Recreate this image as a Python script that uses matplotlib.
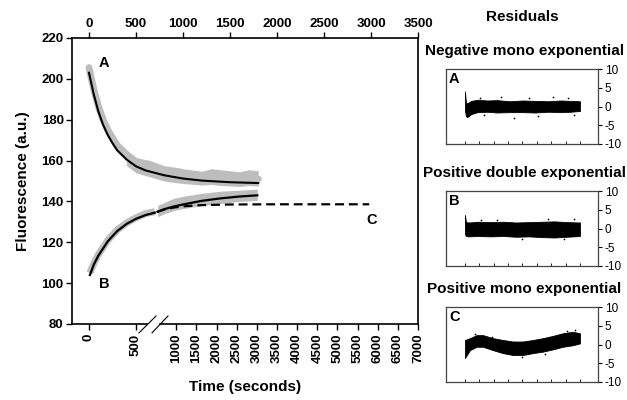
import numpy as np
import matplotlib
matplotlib.use("Agg")
import matplotlib.pyplot as plt
import matplotlib.transforms as mtransforms

plt.rcParams['font.family'] = ['Liberation Sans', 'DejaVu Sans']
plt.rcParams['font.weight'] = 'bold'
plt.rcParams['axes.labelweight'] = 'bold'
plt.rcParams['axes.unicode_minus'] = False

# --------------------------------------------------------------------------- #
# data ; time in seconds on the top scale
# --------------------------------------------------------------------------- #
top_ticks = [0, 500, 1000, 1500, 2000, 2500, 3000, 3500]
bottom_ticks = [0, 500, 1000, 1500, 2000, 2500, 3000, 3500, 4000,
                4500, 5000, 5500, 6000, 6500, 7000]
y_ticks = [80, 100, 120, 140, 160, 180, 200, 220]

# trace A : negative mono exponential
a_t = [0, 50, 100, 150, 200, 250, 300, 400, 500, 600, 700, 800, 1000, 1200, 1500, 1800]
a_data = [205.5, 195, 186.5, 180, 175, 171, 167.5, 163, 159.5, 157.5, 156, 155, 153, 152, 151.2, 151]
a_fit = [203, 192.5, 184, 177.5, 172.5, 168.5, 165, 160.5, 157.2, 155.2, 154, 152.8, 151.2, 150.2, 149.4, 149]
a_band_t = [400, 500, 650, 800, 950, 1000, 1200, 1300, 1400, 1600, 1700, 1800]
a_band_hi = [165, 161.5, 160, 157.5, 156.5, 156, 154.8, 156, 155.5, 154.5, 155.5, 155]
a_band_lo = [157.5, 154, 152, 150, 149, 148.8, 148, 148.3, 147.8, 147.3, 147.8, 147.5]

# trace B : positive double exponential (broken at the axis break)
b1_t = [10, 50, 100, 150, 200, 250, 300, 400, 500, 600, 700]
b1_data = [105, 109.5, 114, 117.5, 121, 123.5, 126, 129.5, 132, 134, 135]
b1_fit = [104, 109, 113.5, 117, 120.5, 123, 125.5, 129, 131.5, 133.3, 134.5]
b2_t = [730, 800, 900, 1000, 1200, 1400, 1600, 1790]
b2_data = [135.5, 137, 138.3, 139.3, 141, 142, 142.8, 143.3]
b2_fit = [135, 136.2, 137.5, 138.5, 140.3, 141.5, 142.4, 143]
b2_hi = [138, 139.5, 141.5, 142.5, 144, 145, 145.5, 146]
b2_lo = [132.5, 134, 135.5, 136.5, 138, 139, 140, 140.5]

# trace C : positive mono exponential fit (dashed)
c_t = [720, 800, 900, 1000, 1200, 1500, 2000, 2500, 2980]
c_fit = [134.8, 136, 137, 137.6, 138.2, 138.5, 138.6, 138.6, 138.6]

# residuals (envelope of the scattered points + a few stray points)
res_ticks = [-10, -5, 0, 5, 10]
res_xticks = [0, 225, 450, 675, 900, 1125, 1350, 1575, 1800]

ra_t = [0, 15, 40, 100, 200, 350, 500, 700, 900, 1100, 1300, 1500, 1650, 1800]
ra_hi = [4.0, 1.0, 0.9, 1.5, 1.8, 1.6, 1.7, 1.4, 1.6, 1.5, 1.4, 1.6, 1.5, 1.4]
ra_lo = [-1.0, -2.6, -2.8, -2.0, -1.5, -1.4, -1.6, -1.5, -1.5, -1.6, -1.4, -1.5, -1.4, -1.2]
ra_out_t = [230, 300, 560, 760, 1000, 1150, 1380, 1620, 1700]
ra_out_v = [2.4, -2.3, 2.5, -3.0, 2.3, -2.4, 2.6, 2.2, -2.2]

rb_t = [0, 15, 60, 200, 400, 600, 800, 1000, 1200, 1400, 1600, 1800]
rb_hi = [3.6, 1.7, 1.6, 1.8, 1.7, 1.8, 1.6, 1.7, 1.8, 1.9, 1.7, 1.6]
rb_lo = [-1.5, -2.0, -2.1, -2.0, -2.1, -2.0, -2.2, -2.1, -2.3, -2.4, -2.2, -2.0]
rb_out_t = [250, 500, 900, 1300, 1550, 1700]
rb_out_v = [2.4, 2.3, -2.7, 2.6, -2.8, 2.5]

rc_t = [0, 78, 183, 282, 438, 595, 751, 908, 1064, 1221, 1377, 1534, 1690, 1800]
rc_hi = [1.2, 1.7, 2.5, 2.5, 1.7, 1.2, 0.8, 0.8, 1.2, 1.7, 2.3, 3.0, 3.4, 3.0]
rc_lo = [-3.6, -1.5, -0.6, -0.6, -1.5, -2.3, -2.8, -2.8, -2.3, -1.9, -1.3, -0.6, -0.2, 0.3]
rc_out_t = [150, 420, 900, 1250, 1600, 1720]
rc_out_v = [2.9, 2.1, -3.2, -2.4, 3.6, 3.8]


def broken(t):
    """bottom (broken) time axis -> position on the top time scale."""
    t = np.asarray(t, float)
    return np.where(t <= 500, t, 3500 - (7000 - t) * 3.0 / 7.0)


GREY = "#bdbdbd"

fig = plt.figure(figsize=(6.27, 4.0), dpi=100)

# --------------------------------------------------------------------------- #
# main panel
# --------------------------------------------------------------------------- #
ax = fig.add_axes([0.1148, 0.19, 0.552, 0.715])
ax.fill_between(a_band_t, a_band_lo, a_band_hi, color=GREY, lw=0)
ax.plot(a_t, a_data, color=GREY, lw=5, solid_capstyle="round")
ax.plot(b1_t, b1_data, color=GREY, lw=5, solid_capstyle="butt")
ax.fill_between(b2_t, b2_lo, b2_hi, color=GREY, lw=0)
ax.plot(a_t, a_fit, color="black", lw=1.5)
ax.plot(b1_t, b1_fit, color="black", lw=1.6)
ax.plot(b2_t, b2_fit, color="black", lw=1.6)
ax.plot(c_t, c_fit, color="black", lw=1.6, dashes=(4, 2.2))

ax.text(160, 208, "A", fontsize=10.5, ha="center", va="center")
ax.text(160, 99.5, "B", fontsize=10.5, ha="center", va="center")
ax.text(3010, 131, "C", fontsize=10.5, ha="center", va="center")

ax.set_xlim(-181, 3500)
ax.set_ylim(80, 220)
ax.set_yticks(y_ticks)
ax.set_ylabel("Fluorescence (a.u.)", fontsize=11, labelpad=8)
ax.xaxis.set_ticks_position("top")
ax.set_xticks(top_ticks)
ax.tick_params(direction="out", length=4, width=1, labelsize=9.5, pad=2)
for s in ax.spines.values():
    s.set_linewidth(1.2)
ax.spines["bottom"].set_visible(False)

sec = ax.secondary_xaxis("bottom", functions=(lambda x: x, lambda x: x))
sec.set_xticks(broken(bottom_ticks), labels=[str(t) for t in bottom_ticks])
sec.tick_params(direction="out", length=4, width=1, labelsize=9.5, rotation=90, pad=3)
sec.spines["bottom"].set_visible(False)
sec.set_xlabel("Time (seconds)", fontsize=11, labelpad=12)

# broken bottom spine with "//" marks
tr = mtransforms.blended_transform_factory(ax.transData, ax.transAxes)
ax.plot([-181, 622], [0, 0], color="black", lw=1.2, transform=tr, clip_on=False)
ax.plot([755, 3500], [0, 0], color="black", lw=1.2, transform=tr, clip_on=False)
ax.plot([532, 713], [-0.031, 0.028], color="black", lw=0.8, transform=tr, clip_on=False)
ax.plot([670, 840], [-0.031, 0.028], color="black", lw=0.8, transform=tr, clip_on=False)

# --------------------------------------------------------------------------- #
# residual panels
# --------------------------------------------------------------------------- #
fig.text(0.833, 0.957, "Residuals", fontsize=11, ha="center", va="center")

panels = [
    ("A", "Negative mono exponential", 0.64, 0.872, ra_t, ra_lo, ra_hi, ra_out_t, ra_out_v),
    ("B", "Positive double exponential", 0.335, 0.567, rb_t, rb_lo, rb_hi, rb_out_t, rb_out_v),
    ("C", "Positive mono exponential", 0.045, 0.278, rc_t, rc_lo, rc_hi, rc_out_t, rc_out_v),
]
for tag, title, bottom, title_y, t, lo, hi, ot, ov in panels:
    r = fig.add_axes([0.7113, bottom, 0.2424, 0.1875])
    r.fill_between(t, lo, hi, color="black", lw=0.6)
    r.scatter(ot, ov, s=1.5, color="black", lw=0)
    r.set_xlim(-297, 2082)
    r.set_ylim(-10, 10)
    r.set_yticks(res_ticks)
    r.set_xticks(res_xticks)
    r.yaxis.tick_right()
    r.tick_params(axis="y", direction="out", length=3, width=0.8, labelsize=8.5, pad=2)
    r.tick_params(axis="x", direction="in", length=2, width=0.6, labelbottom=False)
    for lbl in r.get_yticklabels():
        lbl.set_fontweight("normal")
    for s in r.spines.values():
        s.set_color("#444444")
        s.set_linewidth(0.9)
    r.text(0.02, 0.96, tag, transform=r.transAxes, fontsize=10.5, ha="left", va="top")
    fig.text(0.836, title_y, title, fontsize=11, ha="center", va="center")

fig.savefig("out.png", dpi=100)
